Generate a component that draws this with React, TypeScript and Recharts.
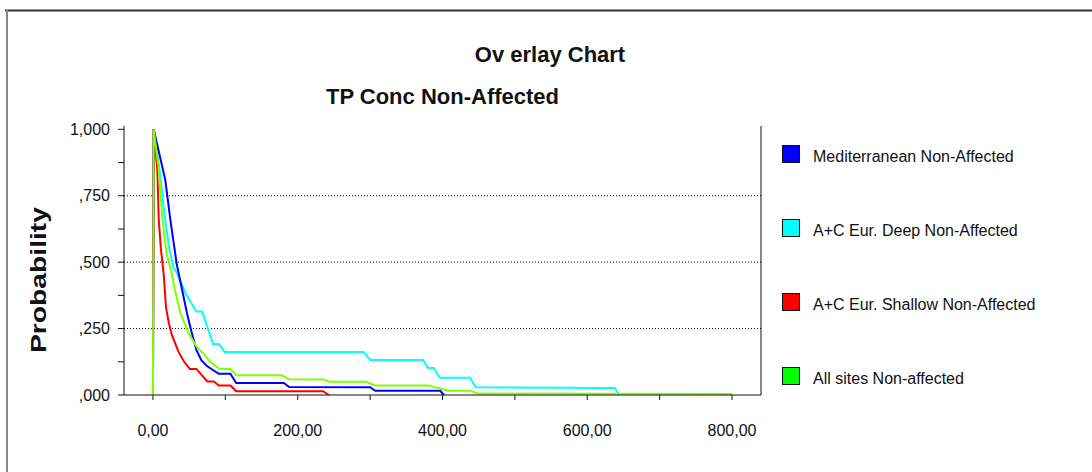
import {
  LineChart,
  Line,
  XAxis,
  YAxis,
  ReferenceLine,
} from "recharts";

// Mediterranean Non-Affected (blue)
const medX = [0, 1, 17, 24, 33, 40, 47, 53, 60, 67, 75, 91, 107, 115, 181, 188, 300, 307, 397, 402];
const medP = [0, 1, 0.81, 0.66, 0.49, 0.4, 0.308, 0.24, 0.17, 0.13, 0.108, 0.08, 0.08, 0.045, 0.045, 0.03, 0.029, 0.016, 0.016, 0];

// A+C Eur. Deep Non-Affected (cyan)
const deepX = [0, 1, 9, 16, 22, 28, 33, 45, 60, 68, 83, 91, 99, 291, 300, 373, 380, 388, 396, 438, 446, 638, 644];
const deepP = [0, 1, 0.85, 0.68, 0.56, 0.483, 0.459, 0.383, 0.314, 0.314, 0.192, 0.192, 0.162, 0.162, 0.132, 0.132, 0.102, 0.102, 0.065, 0.065, 0.029, 0.026, 0];

// A+C Eur. Shallow Non-Affected (red)
const shallowX = [0, 1, 6, 8, 11, 15, 18, 22, 26, 35, 43, 51, 60, 75, 84, 91, 107, 115, 235, 243];
const shallowP = [0, 1, 0.85, 0.66, 0.55, 0.45, 0.33, 0.27, 0.227, 0.164, 0.125, 0.098, 0.098, 0.051, 0.051, 0.036, 0.036, 0.014, 0.014, 0];

// All sites Non-affected (green)
const allX = [0, 1, 8, 13, 19, 25, 30, 38, 49, 60, 69, 79, 91, 98, 107, 115, 178, 188, 236, 244, 294, 307, 379, 395, 407, 439, 448, 800];
const allP = [0, 1, 0.85, 0.66, 0.53, 0.47, 0.4, 0.308, 0.233, 0.183, 0.158, 0.126, 0.1, 0.098, 0.098, 0.074, 0.074, 0.059, 0.058, 0.05, 0.05, 0.036, 0.036, 0.026, 0.016, 0.016, 0.006, 0.004];

const xTicks = [0, 100, 200, 300, 400, 500, 600, 700, 800];
const yTicks = [0, 0.125, 0.25, 0.375, 0.5, 0.625, 0.75, 0.875, 1];
const gridLevels = [0.25, 0.5, 0.75];

const FONT = "'Liberation Sans', Arial, sans-serif";

const toPoints = (xs: number[], ps: number[]) => xs.map((x, i) => ({ x, p: ps[i] }));

const series = [
  { name: "Mediterranean Non-Affected", line: "#0000ff", box: "#0000ff", data: toPoints(medX, medP) },
  { name: "A+C Eur. Deep Non-Affected", line: "#00ffff", box: "#00ffff", data: toPoints(deepX, deepP) },
  { name: "A+C Eur. Shallow Non-Affected", line: "#ff0000", box: "#ff0000", data: toPoints(shallowX, shallowP) },
  { name: "All sites Non-affected", line: "#80ff00", box: "#00ff00", data: toPoints(allX, allP) },
];
// drawing order: green on top
const drawOrder = [1, 0, 2, 3];

const fmtX = (v: number) => (v % 200 === 0 ? v.toFixed(2).replace(".", ",") : "");
const fmtY = (v: number) => {
  if (Math.round(v * 1000) % 250 !== 0) return "";
  const s = v.toFixed(3).replace(".", ",");
  return s.startsWith("0") ? s.slice(1) : s;
};

const YLabel = () => (
  <text
    x={38.5}
    y={280}
    transform="rotate(-90, 38.5, 280)"
    textAnchor="middle"
    dominantBaseline="central"
    fontFamily={FONT}
    fontWeight="bold"
    fontSize={22}
    fill="#111"
    textLength={146}
    lengthAdjust="spacingAndGlyphs"
  >
    Probability
  </text>
);

export default function App() {
  return (
    <div
      style={{
        position: "absolute",
        top: 0,
        left: 0,
        width: 1092,
        height: 472,
        background: "#fff",
        overflow: "hidden",
        fontFamily: FONT,
      }}
    >
      <svg
        width={1092}
        height={472}
        style={{ position: "absolute", top: 0, left: 0, pointerEvents: "none" }}
      >
        <line x1={5} y1={10.5} x2={1092} y2={10.5} stroke="#333" strokeWidth={2} />
        <line x1={7} y1={10} x2={7} y2={472} stroke="#888" strokeWidth={2} />
        <text x={550} y={62} textAnchor="middle" fontFamily={FONT} fontWeight="bold" fontSize={22} fill="#111">
          Ov erlay Chart
        </text>
        <text x={442.5} y={104} textAnchor="middle" fontFamily={FONT} fontWeight="bold" fontSize={22} fill="#111">
          TP Conc Non-Affected
        </text>
      </svg>

      <div style={{ position: "absolute", top: 0, left: 0 }}>
        <LineChart width={1092} height={472} margin={{ top: 126, right: 321, bottom: 27, left: 64 }}>
          <XAxis
            xAxisId="bottom"
            dataKey="x"
            type="number"
            domain={[-40, 840]}
            ticks={xTicks}
            tickFormatter={fmtX}
            interval={0}
            height={50}
            tickSize={5}
            tickMargin={25}
            stroke="#111"
            tick={{ fill: "#111", fontSize: 16, fontFamily: FONT }}
            allowDataOverflow
          />
          <XAxis
            xAxisId="top"
            orientation="top"
            dataKey="x"
            type="number"
            domain={[-40, 840]}
            height={0}
            tick={false}
            tickLine={false}
            stroke="#111"
          />
          <YAxis
            yAxisId="left"
            type="number"
            domain={[0, 1.0125]}
            ticks={yTicks}
            tickFormatter={fmtY}
            interval={0}
            width={60}
            tickSize={6}
            tickMargin={8}
            stroke="#111"
            tick={{ fill: "#111", fontSize: 16, fontFamily: FONT }}
            label={<YLabel />}
          />
          <YAxis
            yAxisId="right"
            orientation="right"
            type="number"
            domain={[0, 1.0125]}
            ticks={yTicks}
            tickFormatter={() => ""}
            interval={0}
            width={10}
            tickSize={5}
            stroke="#111"
          />
          {gridLevels.map((g) => (
            <ReferenceLine
              key={g}
              yAxisId="left"
              xAxisId="bottom"
              y={g}
              stroke="#000"
              strokeDasharray="1 2"
            />
          ))}
          {drawOrder.map((i) => {
            const s = series[i];
            return (
              <Line
                key={s.name}
                xAxisId="bottom"
                yAxisId="left"
                data={s.data}
                dataKey="p"
                name={s.name}
                type="linear"
                stroke={s.line}
                strokeWidth={2}
                dot={false}
                activeDot={false}
                isAnimationActive={false}
              />
            );
          })}
        </LineChart>
      </div>

      {series.map((s, i) => (
        <div
          key={s.name}
          style={{ position: "absolute", left: 782, top: 145 + i * 73.9, height: 18 }}
        >
          <div
            style={{
              position: "absolute",
              left: 0,
              top: 0,
              width: 16,
              height: 16,
              background: s.box,
              border: "1px solid #111",
            }}
          />
          <div
            style={{
              position: "absolute",
              left: 31,
              top: 3,
              lineHeight: "18px",
              fontSize: 16,
              whiteSpace: "nowrap",
              color: "#111",
            }}
          >
            {s.name}
          </div>
        </div>
      ))}
    </div>
  );
}
